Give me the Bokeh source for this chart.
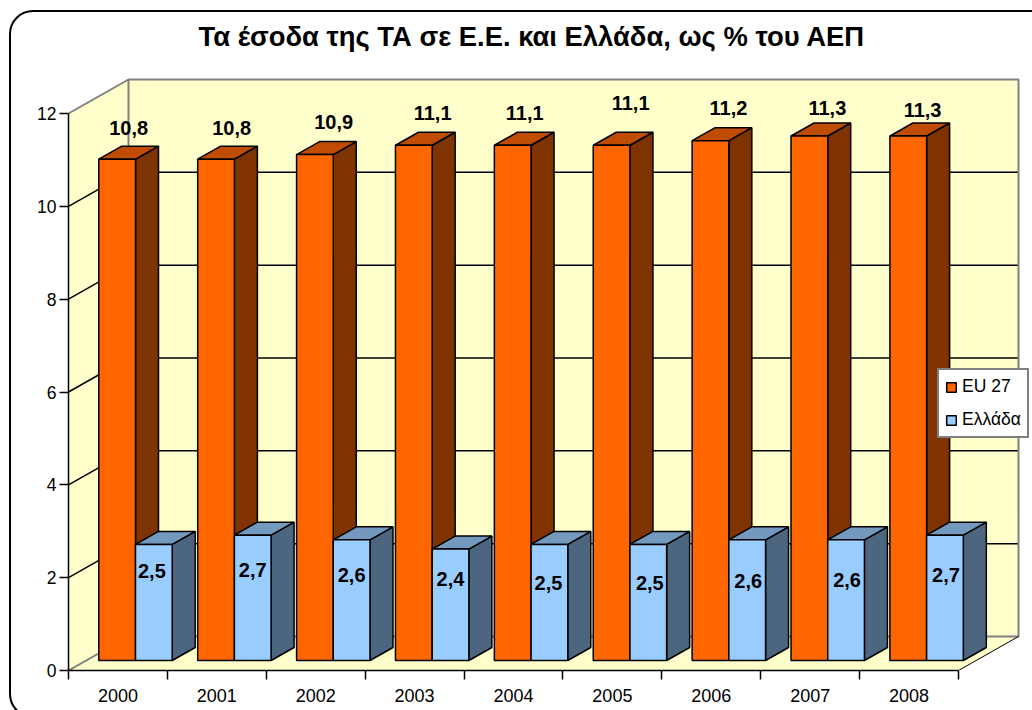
from bokeh.plotting import figure
from bokeh.models import (LinearAxis, Range1d, FixedTicker, InlineStyleSheet, Legend, LegendItem,
                          ColumnDataSource)
from bokeh.core.properties import value
from bokeh.embed import file_html
from bokeh.resources import INLINE

# ---- data ----
years = ["2000", "2001", "2002", "2003", "2004", "2005", "2006", "2007", "2008"]
eu27 = [10.8, 10.8, 10.9, 11.1, 11.1, 11.1, 11.2, 11.3, 11.3]
greece = [2.5, 2.7, 2.6, 2.4, 2.5, 2.5, 2.6, 2.6, 2.7]
y_ticks = [0, 2, 4, 6, 8, 10, 12]
title_text = "Τα έσοδα της ΤΑ σε Ε.Ε. και Ελλάδα, ως % του ΑΕΠ"
series_names = ["EU 27", "Ελλάδα"]

# ---- hand-placed label offsets (px) ----
eu_dx = [11.5, 15.6, 18.7, 18.8, 12, 19, 18, 18, 14.3]
eu_dy = [-31, -31, -33, -32, -32, -42, -33, -28, -26]
gr_dx = [-2, 0, 0, 0, -1, 1.5, 1, 1, 1]
gr_dy = [27, 35, 35, 30, 39, 39, 41, 40, 40]

# ---- layout ----
W, H = 1032, 710
LEFT, TOP, BOTTOM = 68, 68, 40
PX_X = 890 / 9       # px per category slot
PX_Y = 557 / 12      # px per value unit
FRAME_W = W - LEFT
FRAME_H = H - TOP - BOTTOM
n = len(years)
ymax = y_ticks[-1]

# oblique offsets in data units
wall_dx, wall_dy = 60 / PX_X, 34 / PX_Y
base_dx, base_dy = 30.3 / PX_X, 10 / PX_Y
bar_w = 36.7 / PX_X
bar_dx, bar_dy = 23 / PX_X, 13 / PX_Y

# rounded chart frame, drawn by the page around the canvas
frame_css = InlineStyleSheet(css="""
:host { overflow: hidden; }
:host::after {
  content: ""; position: absolute; left: 9px; top: 10px; width: 1060px; height: 708px;
  border: 2px solid black; border-radius: 24px; box-sizing: border-box; pointer-events: none;
}
""")

p = figure(width=W, height=H, output_backend="svg", toolbar_location=None,
           x_axis_type=None, y_axis_type=None,
           x_range=Range1d(0, FRAME_W / PX_X), y_range=Range1d(0, FRAME_H / PX_Y),
           min_border_left=LEFT, min_border_right=0, min_border_top=TOP, min_border_bottom=BOTTOM,
           outline_line_color=None, background_fill_color="white", border_fill_color="white",
           stylesheets=[frame_css])

p.title.text = title_text
p.title.text_font = "Liberation Sans"
p.title.text_font_size = "27.4px"
p.title.text_font_style = "bold"
p.title.text_color = "black"
p.title.align = "left"
p.title.offset = 130
p.title.standoff = 34

WALL = "#FFFFCC"
GRAY = "#808080"
# walls and floor
p.patch([wall_dx, n + wall_dx, n + wall_dx, wall_dx], [wall_dy, wall_dy, ymax + wall_dy, ymax + wall_dy],
        fill_color=WALL, line_color=None)
p.patch([0, wall_dx, wall_dx, 0], [0, wall_dy, ymax + wall_dy, ymax], fill_color=WALL, line_color=None)
p.patch([0, n, n + wall_dx, wall_dx], [0, 0, wall_dy, wall_dy], fill_color=WALL, line_color=None)

grid = [v for v in y_ticks if 0 < v < ymax]
p.multi_line([[0, wall_dx, n + wall_dx] for v in grid], [[v, v + wall_dy, v + wall_dy] for v in grid],
             line_color="black", line_width=1.5)
p.line([0, wall_dx, wall_dx, n + wall_dx, n + wall_dx, wall_dx, wall_dx, 0],
       [ymax, ymax + wall_dy, wall_dy, wall_dy, ymax + wall_dy, ymax + wall_dy, wall_dy, 0],
       line_color=GRAY, line_width=2)
p.line([n, n + wall_dx], [0, wall_dy], line_color="black", line_width=1)


def draw_series(vals, slot_off, front, side, top):
    fx, fy, sx, sy, tx, ty = [], [], [], [], [], []
    for i, v in enumerate(vals):
        x0 = i + base_dx + slot_off * bar_w
        x1 = x0 + bar_w
        y0 = base_dy
        y1 = base_dy + v
        fx.append([x0, x1, x1, x0]); fy.append([y0, y0, y1, y1])
        sx.append([x1, x1 + bar_dx, x1 + bar_dx, x1]); sy.append([y0, y0 + bar_dy, y1 + bar_dy, y1])
        tx.append([x0, x1, x1 + bar_dx, x0 + bar_dx]); ty.append([y1, y1, y1 + bar_dy, y1 + bar_dy])
    style = dict(line_color="black", line_width=1.5)
    p.patches(sx, sy, fill_color=side, **style)
    p.patches(tx, ty, fill_color=top, **style)
    return p.patches(fx, fy, fill_color=front, **style)


r_eu = draw_series(eu27, 0, "#FF6600", "#7F3300", "#BF4C00")
r_gr = draw_series(greece, 1, "#99CCFF", "#4C6680", "#7399BF")

# data labels
lab = dict(text_font=value("Liberation Sans"), text_font_style="bold", text_font_size="20px",
           text_color="black", text_align="center", text_baseline="middle")
p.text(x="x", y="y", text="t", x_offset="dx", y_offset="dy", source=ColumnDataSource(dict(
    x=[i + base_dx + 0.5 * bar_w for i in range(n)], y=[base_dy + v for v in eu27],
    t=[f"{v:.1f}".replace(".", ",") for v in eu27], dx=eu_dx, dy=eu_dy)), **lab)
p.text(x="x", y="y", text="t", x_offset="dx", y_offset="dy", source=ColumnDataSource(dict(
    x=[i + base_dx + 1.5 * bar_w for i in range(n)], y=[base_dy + v for v in greece],
    t=[f"{v:.1f}".replace(".", ",") for v in greece], dx=gr_dx, dy=gr_dy)), **lab)

# axes
yax = LinearAxis(ticker=FixedTicker(ticks=y_ticks), bounds=(0, ymax))
yax.major_tick_out = 9
yax.major_tick_in = 0
yax.minor_tick_out = 0
yax.major_label_standoff = 3
yax.major_label_text_font_size = "17.5px"
xax = LinearAxis(ticker=FixedTicker(ticks=[i + 0.5 for i in range(n)], minor_ticks=list(range(n + 1))),
                 bounds=(0, n),
                 major_label_overrides={i + 0.5: y for i, y in enumerate(years)})
xax.major_tick_out = 0
xax.major_tick_in = 0
xax.minor_tick_out = 9
xax.minor_tick_in = 0
xax.major_label_standoff = 9
xax.major_label_text_font_size = "18px"
for ax in (xax, yax):
    ax.axis_line_color = "black"
    ax.axis_line_width = 1.5
    ax.major_tick_line_color = "black"
    ax.major_tick_line_width = 1.5
    ax.minor_tick_line_color = "black"
    ax.minor_tick_line_width = 1.5
    ax.major_label_text_font = "Liberation Sans"
    ax.major_label_text_color = "black"
p.add_layout(yax, "left")
p.add_layout(xax, "below")

# legend
leg = Legend(items=[LegendItem(label=series_names[0], renderers=[r_eu]),
                    LegendItem(label=series_names[1], renderers=[r_gr])],
             location=(869, 232), orientation="vertical",
             glyph_width=12, glyph_height=12, label_standoff=5, spacing=12,
             margin=0, padding=6,
             label_text_font="Liberation Sans", label_text_font_size="17.5px", label_text_color="black",
             background_fill_color="white", background_fill_alpha=1,
             border_line_color="black", border_line_width=2)
p.add_layout(leg)

open("out.html", "w").write(file_html(p, INLINE))
